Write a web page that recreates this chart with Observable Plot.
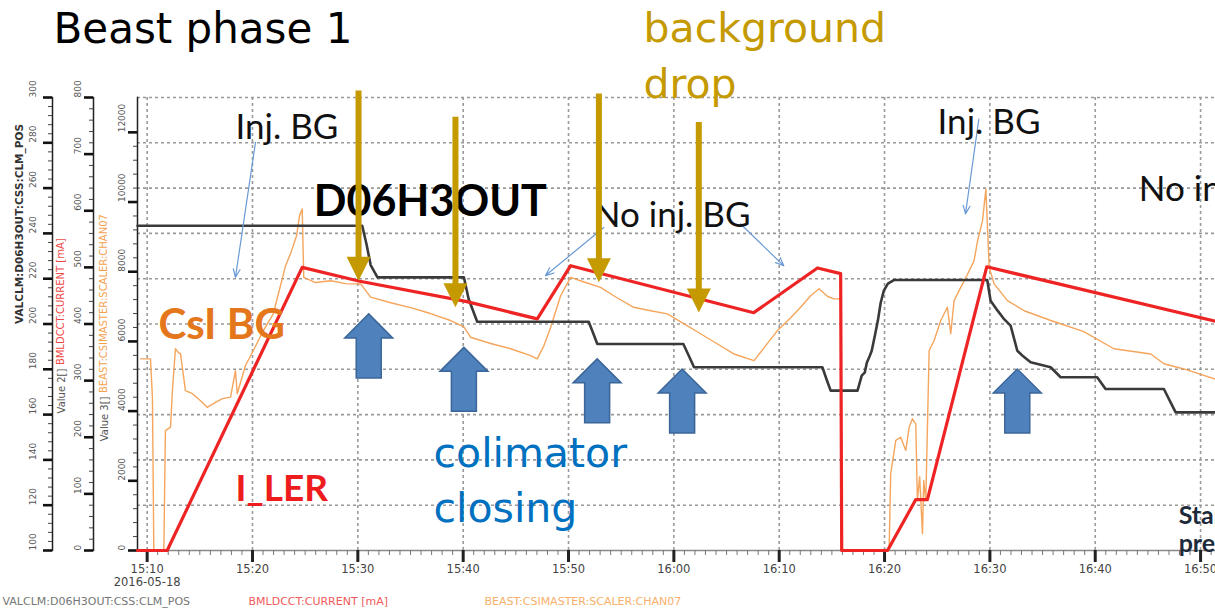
<!DOCTYPE html>
<html>
<head>
<meta charset="utf-8">
<script src="https://cdn.jsdelivr.net/npm/d3@7"></script>
<script src="https://cdn.jsdelivr.net/npm/@observablehq/plot@0.6"></script>
<style>
  html, body { margin: 0; padding: 0; background: #fff; }
  #chart svg { display: block; }
</style>
</head>
<body>
<div id="chart"></div>
<script>
// Strip chart of 2016-05-18: collimator position, LER current and CsI rate
const day = "2016-05-18";

// Collimator D06H3OUT position (CLM_POS), outer axis 100–300
const clmTimes = ["15:09:05","15:30:25","15:30:50","15:31:13","15:31:52","15:40:04","15:40:31","15:41:20",
  "15:51:55","15:52:20","15:52:44","16:00:54","16:01:25","16:01:55","16:14:06","16:14:30","16:14:53",
  "16:17:26","16:17:50","16:18:07","16:18:19","16:18:36","16:18:47","16:19:05","16:19:22","16:19:38",
  "16:19:56","16:20:19","16:20:53","16:29:45","16:30:04","16:30:44","16:31:18","16:31:58","16:32:36",
  "16:33:06","16:33:52","16:35:46","16:36:43","16:40:11","16:40:59","16:46:31","16:47:38","16:51:25"];
const clmValues = [243.4,243.4,235,226,220.6,220.6,211,201,
  201,196,191.2,191.2,186,180.9,180.9,175.5,170.6,
  170.6,177.2,178.5,182.9,186,188.2,194.9,201.5,209.4,
  214.7,217.8,219.4,219.4,210.3,205.9,202.4,199.3,188.2,
  186,183.1,180.9,176.5,176.5,171.3,171.3,161,161];

// LER beam current BMLDCCT:CURRENT in mA, middle axis 0–800
const curTimes = ["15:09:05","15:11:54","15:24:43","15:30:04","15:40:14","15:47:02","15:50:12","16:07:35",
  "16:13:38","16:15:50","16:15:56","16:20:17","16:22:58","16:24:04","16:29:42","16:51:25"];
const curValues = [0,0,500,476,440,409,503,420,499,489,0,0,90,90,501,405];

// CsI scaler rate BEAST:CSIMASTER:SCALER:CHAN07, inner axis
const csiTimes = ["15:09:22","15:10:19","15:10:30","15:10:38","15:11:35","15:11:44","15:12:13","15:12:24",
  "15:12:41","15:12:58","15:13:10","15:13:38","15:14:18","15:15:04","15:15:42","15:16:29","15:17:09",
  "15:17:55","15:18:23","15:18:33","15:19:20","15:20:05","15:21:02","15:21:59","15:23:08","15:23:37",
  "15:24:11","15:24:28","15:24:43","15:24:52","15:25:59","15:27:25","15:28:50","15:30:16","15:31:13",
  "15:33:07","15:35:00","15:36:54","15:38:48","15:40:04","15:40:42","15:42:36","15:44:30","15:46:24",
  "15:47:02","15:47:40","15:48:18","15:49:15","15:50:12","15:51:37","15:53:02","15:54:34","15:56:11",
  "15:57:48","15:59:23","16:00:56","16:02:32","16:04:04","16:05:41","16:07:37","16:08:43","16:09:50",
  "16:11:05","16:12:02","16:12:59","16:13:47","16:14:36","16:15:12","16:15:50","16:15:53","16:20:26",
  "16:20:35","16:21:04","16:21:32","16:22:01","16:22:20","16:22:39","16:22:58","16:23:07","16:23:20",
  "16:23:36","16:23:43","16:23:55","16:24:14","16:24:42","16:25:20","16:25:58","16:26:17","16:26:36",
  "16:27:14","16:27:49","16:28:30","16:28:50","16:29:18","16:29:37","16:29:56","16:30:24","16:31:40",
  "16:33:15","16:35:47","16:38:55","16:41:46","16:45:17","16:46:31","16:48:25","16:51:25"];
const csiValues = [5500,5500,4400,0,0,3440,3540,4590,
  5790,5680,5650,4590,4500,4300,4110,4250,4360,
  4400,5160,4500,5310,5740,6310,6800,8170,8520,
  9030,9610,9800,7840,7690,7740,7660,7650,7270,
  7110,6970,6800,6600,6420,6120,5940,5790,5590,
  5500,5880,6400,7310,7840,7690,7550,7260,6980,
  6880,6790,6510,6220,5940,5640,5450,5880,6310,
  6680,6980,7310,7510,7290,7220,7220,0,0,
  2200,3160,3250,2870,3540,3780,3630,1430,2120,
  480,2010,1430,5740,6020,6600,6980,6220,7170,
  7550,7890,8320,8890,9460,10370,8130,7650,7170,
  6880,6600,6280,5790,5640,5360,5210,4920];

// Axis tick labels
const clmTicks = [100,120,140,160,180,200,220,240,260,280,300];
const curTicks = [0,100,200,300,400,500,600,700,800];
const csiTicks = [0,2000,4000,6000,8000,10000,12000];
const timeTicks = ["15:10","15:20","15:30","15:40","15:50","16:00","16:10","16:20","16:30","16:40","16:50"];

// Annotations placed in chart coordinates (time, CsI units)
const goldArrows = [
  {t: "15:30:04", top: 13190, tip: 7740},
  {t: "15:39:16", top: 12430, tip: 6980},
  {t: "15:52:53", top: 13100, tip: 7700},
  {t: "16:02:22", top: 12280, tip: 6830}
];
const collimatorArrows = [
  {t: "15:31:02", y: 6790}, {t: "15:40:04", y: 5830}, {t: "15:52:43", y: 5500},
  {t: "16:00:47", y: 5210}, {t: "16:32:36", y: 5210}
];
const pointerArrows = [
  {t1: "15:20:17", y1: 11710, t2: "15:18:23", y2: 7840},
  {t1: "15:53:21", y1: 9270, t2: "15:47:49", y2: 7890},
  {t1: "16:06:20", y1: 9370, t2: "16:10:26", y2: 8170},
  {t1: "16:28:57", y1: 12380, t2: "16:27:41", y2: 9660}
];
const bgNotes = [
  {text: "Inj. BG", t: "15:18:23", y: 11816},
  {text: "Inj. BG", t: "16:25:02", y: 11949},
  {text: "No inj. BG", t: "15:52:24", y: 9272},
  {text: "No inj. BG", t: "16:44:08", y: 10038}
];

const parse = d3.utcParse("%Y-%m-%d %H:%M:%S");
const T = s => parse(`${day} ${s.length === 5 ? s + ":00" : s}`);
const fmt = d3.utcFormat("%H:%M");

const CSI_MAX = 13000;
const clmToY = v => (v - 100) / 200 * CSI_MAX;
const curToY = v => v / 800 * CSI_MAX;

const clm = clmTimes.map((s, i) => ({t: T(s), v: clmValues[i]}));
const cur = curTimes.map((s, i) => ({t: T(s), v: curValues[i]}));
const csi = csiTimes.map((s, i) => ({t: T(s), v: csiValues[i]}));

const gold = "#c59a00";
const downHead = {draw(ctx) { ctx.moveTo(-12, -24); ctx.lineTo(12, -24); ctx.lineTo(0, 0); ctx.closePath(); }};
const blockUp = {draw(ctx) {
  ctx.moveTo(0, 0); ctx.lineTo(24, 24); ctx.lineTo(12.5, 24); ctx.lineTo(12.5, 64);
  ctx.lineTo(-12.5, 64); ctx.lineTo(-12.5, 24); ctx.lineTo(-24, 24); ctx.closePath();
}};

// one stacked value axis on the left: spine, ticks and rotated labels
function sideAxis(ticks, step, toY, dx, labelDx) {
  const minor = d3.range(ticks[0], ticks[ticks.length - 1] + step / 2, step);
  return [
    Plot.frame({anchor: "left", dx, stroke: "#222", strokeWidth: 1.5}),
    Plot.axisY(minor.map(toY), {dx, tickSize: 4, stroke: "#444", strokeWidth: 1, fill: "none", label: null}),
    Plot.axisY(ticks.map(toY), {dx, tickSize: 9, stroke: "#111", strokeWidth: 2.6, fill: "none", label: null}),
    Plot.text(ticks, {y: toY, text: d => String(d), frameAnchor: "left", dx: labelDx, rotate: -90,
      fontSize: 9, fill: "#555"})
  ];
}

// a single line of slide text positioned relative to the plot frame's top-left corner
const slideText = (text, dx, dy, options) =>
  Plot.text([text], {text: d => d, frameAnchor: "top-left", dx, dy, textAnchor: "start", lineAnchor: "bottom", ...options});

const chart = Plot.plot({
  width: 1215,
  height: 610,
  marginLeft: 137,
  marginTop: 97,
  marginBottom: 60,
  marginRight: 0,
  style: {fontFamily: "DejaVu Sans", background: "#fff"},
  x: {type: "utc", domain: [T("15:09:05"), T("16:51:25")], axis: null},
  y: {domain: [0, CSI_MAX], axis: null},
  marks: [
    // dotted grid
    Plot.gridY(d3.range(1, 11).map(i => i * CSI_MAX / 10), {stroke: "#9a9a9a", strokeOpacity: 1, strokeWidth: 1.6, strokeDasharray: "3,3"}),
    Plot.gridX(timeTicks.map(T), {stroke: "#9a9a9a", strokeOpacity: 1, strokeWidth: 1.6, strokeDasharray: "3,3"}),

    // time axis
    Plot.ruleY([0], {stroke: "#888", strokeWidth: 1.5}),
    Plot.axisX(d3.utcMinutes(T("15:10"), T("16:52"), 1), {tickSize: 5, stroke: "#777", fill: "none", label: null}),
    Plot.axisX(timeTicks.map(T), {tickSize: 12, stroke: "#222", strokeWidth: 3, tickPadding: 2,
      tickFormat: fmt, fontSize: 11.5, fill: "#444", label: null}),
    Plot.text([T("15:10")], {x: d => d, text: [day], frameAnchor: "bottom", dy: 35, fontSize: 11.5, fill: "#444"}),

    // three stacked value axes
    ...sideAxis(clmTicks, 4, clmToY, -85, -104),
    ...sideAxis(curTicks, 20, curToY, -44, -59),
    ...sideAxis(csiTicks, 400, d => d, 0, -15),

    // axis titles
    Plot.text(["VALCLM:D06H3OUT:CSS:CLM_POS"], {y: CSI_MAX / 2, text: d => d, frameAnchor: "left", dx: -118,
      rotate: -90, fontSize: 10.5, fontWeight: "bold", fill: "#333"}),
    Plot.text(["Value 2[]"], {y: 5220, text: d => d, frameAnchor: "left", dx: -76, rotate: -90,
      textAnchor: "end", fontSize: 10, fill: "#555"}),
    Plot.text(["BMLDCCT:CURRENT [mA]"], {y: 5320, text: d => d, frameAnchor: "left", dx: -77, rotate: -90,
      textAnchor: "start", fontSize: 10, fill: "#f04848"}),
    Plot.text(["Value 3[]"], {y: 4420, text: d => d, frameAnchor: "left", dx: -33, rotate: -90,
      textAnchor: "end", fontSize: 10, fill: "#555"}),
    Plot.text(["BEAST:CSIMASTER:SCALER:CHAN07"], {y: 4520, text: d => d, frameAnchor: "left", dx: -34, rotate: -90,
      textAnchor: "start", fontSize: 10, fill: "#f5a24f"}),

    // bottom legend
    Plot.text(["VALCLM:D06H3OUT:CSS:CLM_POS"], {text: d => d, frameAnchor: "bottom-left", dx: -135, dy: 54,
      textAnchor: "start", fontSize: 11, fill: "#777"}),
    Plot.text(["BMLDCCT:CURRENT [mA]"], {text: d => d, frameAnchor: "bottom-left", dx: 111, dy: 54,
      textAnchor: "start", fontSize: 11, fill: "#f05a5a"}),
    Plot.text(["BEAST:CSIMASTER:SCALER:CHAN07"], {text: d => d, frameAnchor: "bottom-left", dx: 347, dy: 54,
      textAnchor: "start", fontSize: 11, fill: "#f7b06a"}),

    // data series
    Plot.line(csi, {x: "t", y: "v", stroke: "#f5a55c", strokeWidth: 1.4}),
    Plot.line(clm, {x: "t", y: d => clmToY(d.v), stroke: "#3a3a3a", strokeWidth: 2.6}),
    Plot.line(cur, {x: "t", y: d => curToY(d.v), stroke: "#ee2424", strokeWidth: 3.2}),

    // annotations
    Plot.arrow(pointerArrows, {x1: d => T(d.t1), y1: "y1", x2: d => T(d.t2), y2: "y2",
      stroke: "#6b9ad6", strokeWidth: 1.2, headLength: 11, headAngle: 45}),
    Plot.text(bgNotes, {x: d => T(d.t), y: "y", text: "text", textAnchor: "start", lineAnchor: "bottom",
      fontFamily: "Lato", fontSize: 35, fill: "#111"}),
    Plot.text(["D06H3OUT"], {x: T("15:25:49"), y: 9608, text: d => d, textAnchor: "start", lineAnchor: "bottom",
      fontFamily: "Lato", fontWeight: "bold", fontSize: 43, fill: "#000"}),
    Plot.text(["CsI BG"], {x: T("15:11:04"), y: 6072, text: d => d, textAnchor: "start", lineAnchor: "bottom",
      fontFamily: "Lato", fontWeight: "bold", fontSize: 42, fill: "#e4761b"}),
    Plot.text(["I_LER"], {x: T("15:18:23"), y: 1434, text: d => d, textAnchor: "start", lineAnchor: "bottom",
      fontFamily: "Lato", fontWeight: "bold", fontSize: 37, fill: "#ee1c1c"}),
    Plot.text(["colimator", "closing"], {x: T("15:37:11"), y: [2389, 812], text: d => d, textAnchor: "start",
      lineAnchor: "bottom", fontFamily: "DejaVu Sans", fontSize: 41, fill: "#0070c0"}),
    Plot.text(["Start", "precise"], {x: T("16:47:55"), y: [760, -30], text: d => d, textAnchor: "start",
      lineAnchor: "bottom", fontFamily: "Lato", fontWeight: "bold", fontSize: 25, fill: "#1d2a3a"}),

    Plot.ruleX(goldArrows, {x: d => T(d.t), y1: "top", y2: "tip", stroke: gold, strokeWidth: 6, insetBottom: 18}),
    Plot.dot(goldArrows, {x: d => T(d.t), y: "tip", symbol: downHead, fill: gold, stroke: null, r: 5}),
    Plot.dot(collimatorArrows, {x: d => T(d.t), y: "y", symbol: blockUp, fill: "#4f81bd", stroke: "#3b6699",
      strokeWidth: 1.5, r: 5}),

    // slide headings above the plot
    slideText("Beast phase 1", -84, -55, {fontFamily: "DejaVu Sans", fontSize: 42, fill: "#000"}),
    slideText("background", 506, -56, {fontFamily: "DejaVu Sans", fontSize: 41, fill: gold}),
    slideText("drop", 506, 0, {fontFamily: "DejaVu Sans", fontSize: 41, fill: gold})
  ]
});

document.getElementById("chart").appendChild(chart);
</script>
</body>
</html>
